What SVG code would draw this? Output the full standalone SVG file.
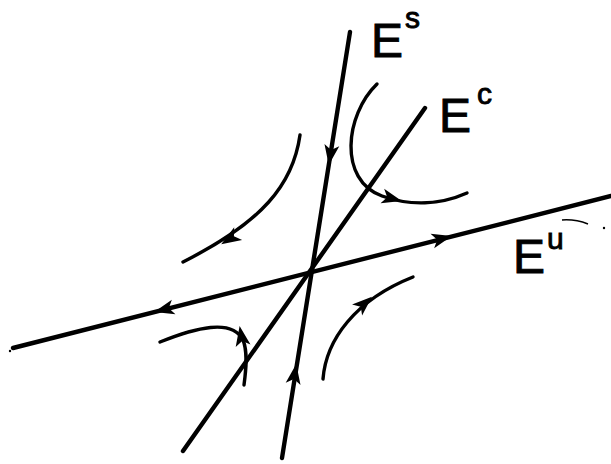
<svg xmlns="http://www.w3.org/2000/svg" width="611" height="464" viewBox="0 0 611 464">
<style>
.ln{fill:none;stroke:#000;stroke-width:4.4;stroke-linecap:round}
.cv{fill:none;stroke:#000;stroke-width:3.4;stroke-linecap:round}
.lb{font-family:"Liberation Sans",Arial,sans-serif;fill:#000;stroke:#000;stroke-width:0.9}
.big{font-size:48px}
.sup{font-size:30px}
</style>
<defs>
<path id="ah" d="M8,0 L-12,-7.5 L-7,0 L-12,7.5 Z" fill="#000"/>
</defs>
<rect width="611" height="464" fill="#fff"/>
<g id="connectors">
<path class="ln" d="M350,32 L282,458"/>
<path class="ln" d="M425,108 L183,451"/>
<path class="ln" d="M13,348 L611,196"/>
<use href="#ah" transform="translate(330,157) rotate(99)"/>
<use href="#ah" transform="translate(295,372) rotate(-81)"/>
<use href="#ah" transform="translate(444,238) rotate(-14)"/>
<use href="#ah" transform="translate(162,310) rotate(166)"/>
<path class="cv" d="M300,135 C293,185 262,222 183,262"/>
<use href="#ah" transform="translate(228,240) rotate(148)"/>
<path class="cv" d="M377,84 C345,115 338,180 382,196 C410,206 440,205 467,193"/>
<use href="#ah" transform="translate(394,199) rotate(14)"/>
<path class="cv" d="M160,342 C195,328 232,318 243,340 C248,352 246,370 244,385"/>
<use href="#ah" transform="translate(241,334) rotate(-100)"/>
<path class="cv" d="M323,379 C326,340 355,300 413,277"/>
<use href="#ah" transform="translate(366,302) rotate(-42)"/>
<path d="M562,220 Q575,219 588,224" fill="none" stroke="#000" stroke-width="1.5"/>
<circle cx="604" cy="228" r="1.2" fill="#000"/>
<circle cx="10" cy="351" r="1.2" fill="#000"/>
</g>
<g id="Es"><text class="lb big" x="371" y="57">E</text><text class="lb sup" x="405" y="28">s</text></g>
<g id="Ec"><text class="lb big" x="439" y="132">E</text><text class="lb sup" x="477" y="104">c</text></g>
<g id="Eu"><text class="lb big" x="513" y="273">E</text><text class="lb sup" x="547" y="249">u</text></g>
</svg>
